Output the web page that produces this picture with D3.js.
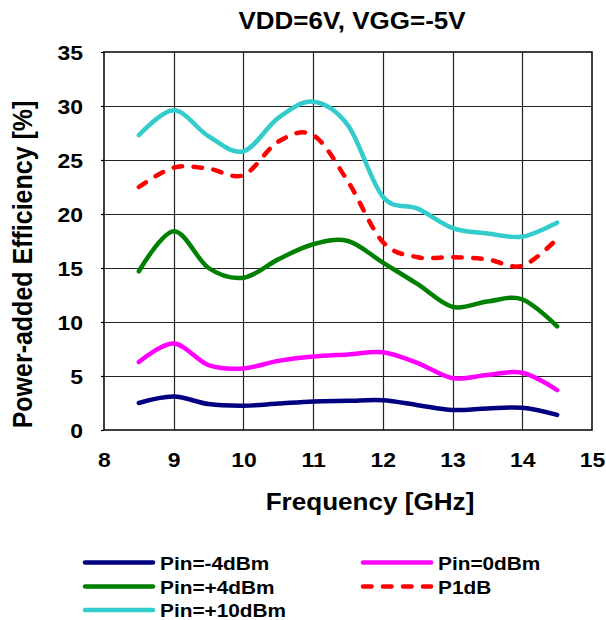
<!DOCTYPE html>
<html>
<head>
<meta charset="utf-8">
<script src="https://cdn.jsdelivr.net/npm/d3@7"></script>
<style>
  html, body { margin: 0; padding: 0; background: #fff; }
  svg text { font-family: "Liberation Sans", Arial, Helvetica, sans-serif; font-weight: bold; fill: #000; }
</style>
</head>
<body>
<svg id="chart" width="606" height="620"></svg>
<script>
// Frequency points [GHz]
const freq = [8.5, 9, 9.5, 10, 10.5, 11, 11.5, 12, 12.5, 13, 13.5, 14, 14.5];

// Power-added efficiency [%] for each drive level
const pinM4  = [2.5, 3.1, 2.4, 2.25, 2.45, 2.65, 2.7, 2.75, 2.3, 1.85, 2.0, 2.05, 1.4];
const pin0   = [6.3, 8.0, 6.0, 5.7, 6.4, 6.8, 7.0, 7.2, 6.2, 4.8, 5.1, 5.3, 3.7];
const pinP4  = [14.7, 18.4, 15.0, 14.1, 15.8, 17.2, 17.5, 15.5, 13.5, 11.4, 11.9, 12.1, 9.6];
const p1dB   = [22.5, 24.3, 24.2, 23.6, 26.7, 27.3, 23.0, 17.4, 16.0, 16.0, 15.8, 15.2, 17.7];
const pinP10 = [27.3, 29.6, 27.2, 25.8, 28.9, 30.4, 28.2, 21.6, 20.5, 18.7, 18.2, 17.9, 19.2];

const seriesNames = ["Pin=-4dBm", "Pin=0dBm", "Pin=+4dBm", "P1dB", "Pin=+10dBm"];
const seriesColors = ["#000080", "#FF00FF", "#008000", "#FF0000", "#33CCCC"];
const seriesDashed = [false, false, false, true, false];
const seriesValues = [pinM4, pin0, pinP4, p1dB, pinP10];

const xTicks = [8, 9, 10, 11, 12, 13, 14, 15];
const yTicks = [0, 5, 10, 15, 20, 25, 30, 35];

const titleText = "VDD=6V, VGG=-5V";
const xTitle = "Frequency [GHz]";
const yTitle = "Power-added Efficiency [%]";

// Layout
const plot = { left: 104, right: 592, top: 52, bottom: 430 };
const stretch = 1.12;   // horizontal text scaling
const lineW = 4.5;

const svg = d3.select("#chart");

const x = d3.scaleLinear().domain([8, 15]).range([plot.left, plot.right]);
const y = d3.scaleLinear().domain([0, 35]).range([plot.bottom, plot.top]);

// Gridlines
const grid = svg.append("g").attr("class", "grid");
grid.selectAll("line.h").data(yTicks.slice(1, -1)).join("line")
  .attr("x1", plot.left).attr("x2", plot.right)
  .attr("y1", d => Math.round(y(d)) + 0.5).attr("y2", d => Math.round(y(d)) + 0.5)
  .attr("stroke", "#222").attr("stroke-width", 1.2);
grid.selectAll("line.v").data(xTicks.slice(1, -1)).join("line")
  .attr("y1", plot.top).attr("y2", plot.bottom)
  .attr("x1", d => Math.round(x(d)) + 0.5).attr("x2", d => Math.round(x(d)) + 0.5)
  .attr("stroke", "#222").attr("stroke-width", 1.2);

// Plot frame
svg.append("rect")
  .attr("x", plot.left).attr("y", plot.top)
  .attr("width", plot.right - plot.left).attr("height", plot.bottom - plot.top)
  .attr("fill", "none").attr("stroke", "#000").attr("stroke-width", 1.5);

// Axes
const yAxis = svg.append("g")
  .attr("transform", `translate(${plot.left},0)`)
  .call(d3.axisLeft(y).tickValues(yTicks).tickSize(3).tickFormat(d3.format("d")));
yAxis.select(".domain").remove();
yAxis.selectAll(".tick line").attr("stroke", "#000").attr("stroke-width", 1.2);
yAxis.selectAll(".tick text")
  .attr("x", 0).attr("dy", null).attr("y", 0)
  .attr("transform", `translate(-21,7.5) scale(${stretch},1)`)
  .attr("text-anchor", "end")
  .style("font-size", "20.5px");

const xAxis = svg.append("g")
  .attr("transform", `translate(0,${plot.bottom})`)
  .call(d3.axisBottom(x).tickValues(xTicks).tickSize(0).tickFormat(d3.format("d")));
xAxis.select(".domain").remove();
xAxis.selectAll(".tick text")
  .attr("y", 0).attr("dy", null)
  .attr("transform", `translate(0,36.5) scale(${stretch},1)`)
  .attr("text-anchor", "middle")
  .style("font-size", "20.5px");

// Series curves
const line = d3.line()
  .x((d, i) => x(freq[i]))
  .y(d => y(d))
  .curve(d3.curveCardinal.tension(0));

svg.append("g").selectAll("path")
  .data(seriesValues.map((v, i) => ({ v, i })))
  .join("path")
  .attr("d", d => line(d.v))
  .attr("fill", "none")
  .attr("stroke", d => seriesColors[d.i])
  .attr("stroke-width", lineW)
  .attr("stroke-linecap", "round")
  .attr("stroke-linejoin", "round")
  .attr("stroke-dasharray", d => seriesDashed[d.i] ? "8.5,11.5" : null);

// Text helper with horizontal stretch
function label(tx, ty, str, size, anchor) {
  svg.append("text")
    .attr("transform", `translate(${tx},${ty}) scale(${stretch},1)`)
    .attr("text-anchor", anchor || "start")
    .style("font-size", size + "px")
    .text(str);
}

label(352, 29.3, titleText, 23.2, "middle");
label(370, 510, xTitle, 23.3, "middle");

svg.append("text")
  .attr("transform", `translate(31.5,264.5) scale(${stretch},1) rotate(-90)`)
  .attr("text-anchor", "middle")
  .style("font-size", "25px")
  .text(yTitle);

// Legend
const legendPos = [
  { lx: 83, rowY: 562.5 }, { lx: 361, rowY: 562.5 },
  { lx: 83, rowY: 586.5 }, { lx: 361, rowY: 586.5 },
  { lx: 83, rowY: 610 }
];
const legend = svg.append("g");
seriesNames.forEach((name, i) => {
  const p = legendPos[i];
  legend.append("line")
    .attr("x1", p.lx + 2).attr("x2", p.lx + 70)
    .attr("y1", p.rowY).attr("y2", p.rowY)
    .attr("stroke", seriesColors[i])
    .attr("stroke-width", lineW)
    .attr("stroke-linecap", "round")
    .attr("stroke-dasharray", seriesDashed[i] ? "8.5,11.5" : null);
  legend.append("text")
    .attr("transform", `translate(${p.lx + 77},${p.rowY + 7}) scale(${stretch},1)`)
    .style("font-size", "18.6px")
    .text(name);
});
</script>
</body>
</html>
